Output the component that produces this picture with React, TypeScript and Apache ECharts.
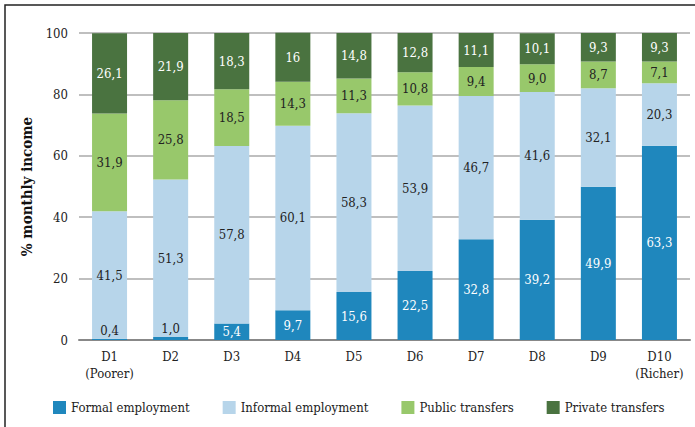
import React, { useEffect, useRef } from "react";
import * as echarts from "echarts";

const categories = ["D1\n(Poorer)", "D2", "D3", "D4", "D5", "D6", "D7", "D8", "D9", "D10\n(Richer)"];
const formalEmployment = [0.4, 1.0, 5.4, 9.7, 15.6, 22.5, 32.8, 39.2, 49.9, 63.3];
const informalEmployment = [41.5, 51.3, 57.8, 60.1, 58.3, 53.9, 46.7, 41.6, 32.1, 20.3];
const publicTransfers = [31.9, 25.8, 18.5, 14.3, 11.3, 10.8, 9.4, 9.0, 8.7, 7.1];
const privateTransfers = [26.1, 21.9, 18.3, 16, 14.8, 12.8, 11.1, 10.1, 9.3, 9.3];
const yTicks = [0, 20, 40, 60, 80, 100];

const FONT = "DejaVu Serif Condensed";

const fmt = (v: number) =>
  (Number.isInteger(v) && v >= 10 ? String(v) : v.toFixed(1)).replace(".", ",");

export default function App() {
  const ref = useRef<HTMLDivElement>(null);
  useEffect(() => {
    if (!ref.current) return;
    const chart = echarts.init(ref.current, undefined, { renderer: "svg" });
    const mk = (name: string, data: number[], color: string, labelColor: string) => ({
      name,
      type: "bar",
      stack: "total",
      barWidth: 35,
      clip: false,
      itemStyle: { color },
      label: {
        show: true,
        position: "inside",
        color: labelColor,
        fontFamily: FONT,
        fontSize: 13,
        formatter: (p: any) => fmt(p.value),
      },
      data: data.map((v) =>
        name === "Formal employment" && v < 2
          ? { value: v, label: { position: "top", color: "#222", distance: 2 } }
          : v
      ),
    });
    chart.setOption({
      animation: false,
      backgroundColor: "#fff",
      textStyle: { fontFamily: FONT },
      grid: { left: 79, right: 5, top: 33, bottom: 87 },
      legend: {
        bottom: 8,
        left: 48,
        width: 660,
        itemWidth: 13,
        itemHeight: 13,
        itemGap: 33,
        icon: "rect",
        textStyle: { fontFamily: FONT, fontSize: 13, color: "#222" },
        data: ["Formal employment", "Informal employment", "Public transfers", "Private transfers"],
      },
      xAxis: {
        type: "category",
        data: categories,
        axisLine: { lineStyle: { color: "#888", width: 2 } },
        axisTick: { show: false },
        axisLabel: { interval: 0, fontFamily: FONT, fontSize: 13, color: "#222", margin: 8, lineHeight: 17 },
      },
      yAxis: {
        type: "value",
        min: yTicks[0],
        max: yTicks[yTicks.length - 1],
        interval: 20,
        name: "% monthly income",
        nameLocation: "middle",
        nameGap: 43,
        nameTextStyle: { fontFamily: FONT, fontSize: 15, fontWeight: "bold", color: "#111" },
        axisLine: { show: false },
        axisTick: { show: false },
        axisLabel: { fontFamily: FONT, fontSize: 13, color: "#222", margin: 11 },
        splitLine: { lineStyle: { color: "#aaa", width: 1.5 } },
      },
      series: [
        mk("Formal employment", formalEmployment, "#1f87bd", "#fff"),
        mk("Informal employment", informalEmployment, "#b7d5ea", "#222"),
        mk("Public transfers", publicTransfers, "#98c86b", "#222"),
        mk("Private transfers", privateTransfers, "#4a7340", "#fff"),
      ],
      graphic: [
        {
          type: "rect",
          shape: { x: 5, y: 5, width: 700, height: 440 },
          style: { fill: "none", stroke: "#222", lineWidth: 1.5 },
          silent: true,
        },
      ],
    });
    return () => chart.dispose();
  }, []);
  return (
    <div
      ref={ref}
      style={{ position: "absolute", left: 0, top: 0, width: 695, height: 427 }}
    />
  );
}
